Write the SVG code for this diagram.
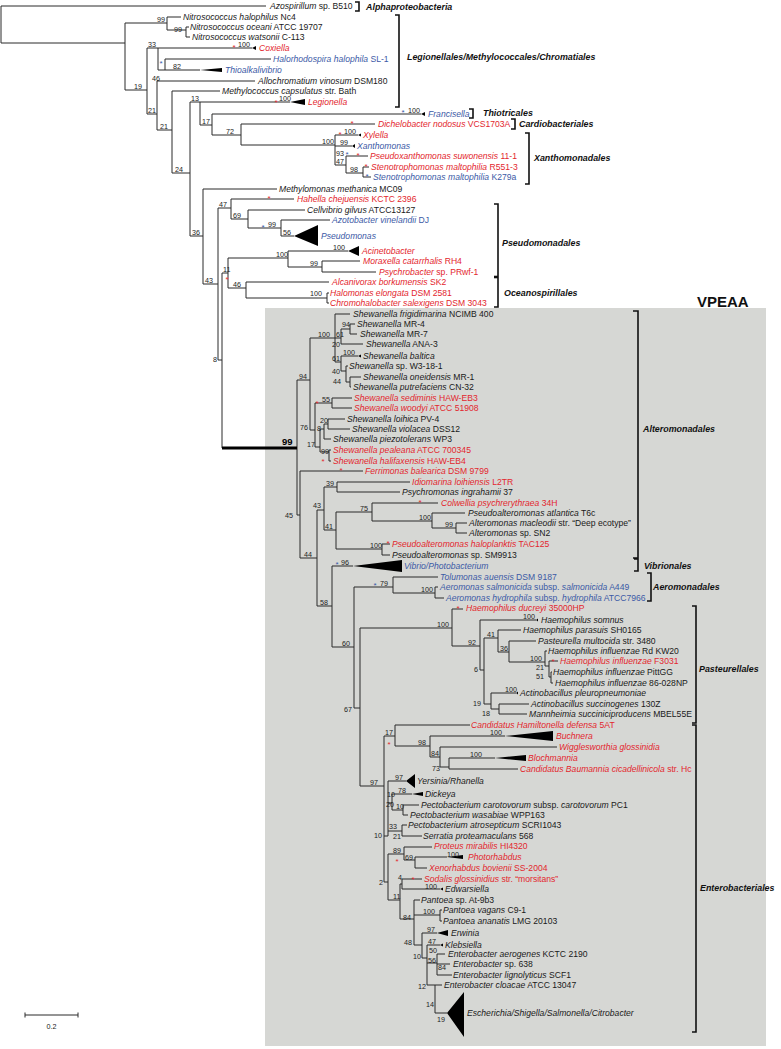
<svg xmlns="http://www.w3.org/2000/svg" width="781" height="1049" viewBox="0 0 781 1049">
<style>
.br{fill:none;stroke:#2b2b2b;stroke-width:1}
.thick{fill:none;stroke:#000;stroke-width:3}
.tri{fill:#000;stroke:none}
.bk{fill:none;stroke:#111;stroke-width:1.6}
.l{font-family:"Liberation Sans",Arial,sans-serif;font-size:8.6px;fill:#1a1a1a}
.i{font-style:italic}
.r{fill:#e3262d}
.bl{fill:#3c5aa6}
.s{font-family:"Liberation Sans",Arial,sans-serif;font-size:7.2px;fill:#222}
.ar{font-family:"Liberation Sans",Arial,sans-serif;font-size:8px;fill:#e3262d;text-anchor:middle}
.ab{font-family:"Liberation Sans",Arial,sans-serif;font-size:8px;fill:#3c5aa6;text-anchor:middle}
.g{font-family:"Liberation Sans",Arial,sans-serif;font-size:8.9px;font-weight:bold;font-style:italic;fill:#111}
</style>
<rect x="0" y="0" width="781" height="1049" fill="#fff"/>
<rect id="vpeaa-box" x="265" y="308" width="501" height="738" fill="#d6d7d4"/>
<g id="connectors">
<path class="br" d="M1 6V43 M1 6H266 M1 43H125 M125 23V90 M125 23H167 M167 17V30 M167 17H181 M167 30H186 M186 27V37 M186 27H189 M186 37H190 M125 90H147 M147 48V114 M147 48H158 M158 48V70 M158 48H252 M158 70H165 M165 59V70 M165 59H271 M165 70H200 M147 114H157 M157 81V130 M157 81H255 M157 130H172 M172 91V173 M172 91H220 M172 173H190 M190 102V236 M190 102H290 M200 102V125 M200 125H212 M212 114V135 M212 114H421 M212 135H241 M241 124V145 M241 124H375 M241 145H335 M335 135V165 M335 135H358 M335 146H352 M335 165H346 M346 156V173 M346 156H368 M346 173H363 M363 167V177 M363 167H369 M363 177H371 M190 236H203 M203 189V284 M203 189H277 M203 284H218 M218 208V360 M218 208H231 M231 199V219 M231 199H294 M231 219H248 M248 210V228 M248 210H305 M248 228H281 M281 220V236 M281 220H330 M281 236H294 M218 360H222 M222 273V448 M222 273H228 M228 258V288 M228 258H288 M288 251V267 M288 251H348 M288 267H322 M322 261V272 M322 261H360 M322 272H376 M228 288H246 M246 282V298 M246 282H329 M246 298H327 M327 293V303 M327 293H329 M327 303H329"/>
<path class="br" d="M297 380V515 M297 380H310 M310 338V430 M310 338H341 M335 314V362 M335 314H350 M341 329V344 M341 329H350 M350 324V334 M350 324H355 M350 334H357 M341 344H363 M335 362H341 M341 356V371 M341 356H358 M341 371H346 M346 366V382 M346 366H348 M346 382H350 M350 377V387 M350 377H361 M350 387H351 M310 430H315 M315 403V447 M315 403H332 M332 398V408 M332 398H352 M332 408H352 M315 447H320 M320 429V452 M320 429H324 M324 424V439 M324 424H328 M328 419V429 M328 419H345 M328 429H350 M324 439H331 M320 452H329 M329 450V461 M329 450H331 M329 461H331 M297 515H300 M300 471V558 M300 471H363 M300 558H317 M317 510V606 M317 510H324 M324 487V530 M324 487H337 M337 482V492 M337 482H410 M337 492H400 M324 530H336 M336 512V549 M336 512H372 M372 503V521 M372 503H438 M372 521H432 M432 513V528 M432 513H465 M432 528H456 M456 523V533 M456 523H467 M456 533H467 M336 549H382 M382 544V555 M382 544H390 M382 555H390 M317 606H332 M332 566V647 M332 566H353 M332 647H354 M354 587V708 M354 587H393 M393 577V593 M393 577H438 M393 593H435 M435 587V598 M435 587H438 M435 598H444 M354 708H360 M360 628V786 M360 628H452 M452 609V646 M452 609H463 M452 646H480 M480 620V670 M480 620H536 M480 670H484 M484 638V704 M484 638H498 M498 630V652 M498 630H521 M498 652H509 M509 641V662 M509 641H536 M509 662H545 M545 651V666 M545 651H547 M545 666H549 M549 661V677 M549 661H558 M549 677H551 M551 672V683 M551 672H552 M551 683H553 M484 704H491 M491 693V709 M491 693H516 M491 709H499 M499 704V714 M499 704H529 M499 714H527"/>
<path class="br" d="M360 786H384 M384 736V882 M384 736H395 M395 725V746 M395 725H470 M395 746H430 M430 736V757 M430 736H505 M430 757H440 M440 747V767 M440 747H557 M440 767H449 M449 758V769 M449 758H495 M449 769H518 M384 836H388 M388 781V836 M388 781H406 M388 803H392 M392 794V810 M392 794H412 M392 810H403 M403 805V815 M403 805H419 M403 815H408 M388 831H402 M402 825V836 M402 825H407 M402 836H422 M384 882H388 M388 854V900 M388 854H404 M404 847V860 M404 847H432 M404 860H415 M415 857V868 M415 857H447 M415 868H427 M388 900H400 M400 884V919 M400 884H402 M402 879V889 M402 879H422 M402 889H440 M400 919H414 M414 900V945 M414 900H420 M414 915H440 M440 910V921 M440 910H442 M440 921H442 M414 945H422 M422 933V958 M422 933H437 M422 958H427 M427 945V985 M427 945H440 M427 963H437 M437 954V975 M437 954H445 M437 964H450 M437 975H452 M427 985H435 M435 985V1013 M435 985H442 M435 1013H447"/>
<path class="thick" d="M222 448H297"/>
<path class="tri" d="M252 48L256 46L256 50Z M200 70L222 68L222 72Z M290 102L305 99L305 105Z M421 114L425 112L425 116Z M358 135L361 133.5L361 136.5Z M352 146L355 144L355 148Z M294 236L318 225L318 246Z M348 251L359 246L359 256Z M358 356L361 354.5L361 357.5Z M353 566L402 560L402 572Z M536 620L538 618.5L538 621.5Z M516 693L518 691.5L518 694.5Z M505 736L553 731L553 741Z M495 758L526 755L526 761Z M406 781L415 774L415 788Z M412 794L423 792L423 796Z M447 857L463 855L463 859Z M440 889L443 887.5L443 890.5Z M437 933L448 930L448 936Z M440 945L443 943.5L443 946.5Z M447 1013L464 992L464 1037Z"/>
</g>
<g id="brackets">
<path class="bk" d="M355 2H359V11H355 M395 15H399V107H395 M469 109H473V118H469 M511 119H515V129H511 M525 133H529V184H525 M494 204H498V307H494 M633 311H638V558H633 M634 559H638V571H634 M647 573H651V601H647 M692 606H696V723H692 M692 725H696V1032H692"/>
<path d="M494 277H498" stroke="#111" stroke-width="2.6"/>
</g>
<g id="support-values">
<text class="s" x="157" y="21.5">99</text><text class="s" x="174" y="32">99</text><text class="s" x="148" y="46.5">33</text><text class="s" x="152" y="80.5">46</text><text class="s" x="173" y="68.5">82</text><text class="s" x="238" y="47.3">100</text><text class="s" x="134" y="88.5">19</text><text class="s" x="148" y="112.5">21</text><text class="s" x="160" y="128.5">21</text><text class="s" x="175" y="171.5">24</text><text class="s" x="191" y="100.5">13</text><text class="s" x="279" y="101.3">100</text><text class="s" x="202" y="123.5">17</text><text class="s" x="408" y="112.5">100</text><text class="s" x="226" y="133.5">72</text><text class="s" x="322" y="143.5">100</text><text class="s" x="344" y="133.5">100</text><text class="s" x="340" y="144.5">99</text><text class="s" x="336" y="156">93</text><text class="s" x="336" y="163.5">47</text><text class="s" x="350" y="171.5">98</text><text class="s" x="192" y="234.5">36</text><text class="s" x="205" y="282.5">43</text><text class="s" x="219" y="206.5">47</text><text class="s" x="233" y="217.5">69</text><text class="s" x="268" y="226.5">99</text><text class="s" x="283" y="234.5">56</text><text class="s" x="213" y="362">8</text><text class="s" x="223" y="271.5">11</text><text class="s" x="276" y="256.5">100</text><text class="s" x="333" y="249.5">100</text><text class="s" x="310" y="265.5">99</text><text class="s" x="233" y="286.5">46</text><text class="s" x="310" y="296">100</text>
<text x="282" y="445" font-family="Liberation Sans, Arial, sans-serif" font-size="9.5" font-weight="bold" fill="#000">99</text>
<text class="s" x="299" y="378.5">94</text><text class="s" x="318" y="336.5">100</text><text class="s" x="336" y="336.5">61</text><text class="s" x="342" y="327">94</text><text class="s" x="332" y="347">20</text><text class="s" x="332" y="361">61</text><text class="s" x="343" y="354.5">100</text><text class="s" x="332" y="374">40</text><text class="s" x="333" y="384">44</text><text class="s" x="322" y="401.5">55</text><text class="s" x="300" y="430">76</text><text class="s" x="320" y="423">20</text><text class="s" x="317" y="431">8</text><text class="s" x="307" y="447">17</text><text class="s" x="321" y="454">99</text><text class="s" x="285" y="518">45</text><text class="s" x="304" y="556.5">44</text><text class="s" x="313" y="507.5">43</text><text class="s" x="326" y="485.5">39</text><text class="s" x="325" y="528.5">41</text><text class="s" x="360" y="510.5">75</text><text class="s" x="419" y="519.5">100</text><text class="s" x="445" y="526.5">99</text><text class="s" x="370" y="547.5">100</text><text class="s" x="320" y="604.5">58</text><text class="s" x="341" y="564.5">96</text><text class="s" x="342" y="645.5">60</text><text class="s" x="380" y="585.5">79</text><text class="s" x="421" y="591.5">100</text><text class="s" x="344" y="712">67</text><text class="s" x="437" y="626.5">100</text><text class="s" x="468" y="644.5">92</text><text class="s" x="523" y="619.4">100</text><text class="s" x="474" y="672">6</text><text class="s" x="487" y="636.5">41</text><text class="s" x="500" y="650.5">36</text><text class="s" x="530" y="660.5">100</text><text class="s" x="536" y="669.5">21</text><text class="s" x="536" y="679">51</text><text class="s" x="473" y="706">19</text><text class="s" x="505" y="691.5">100</text><text class="s" x="482" y="716">18</text>
<text class="s" x="370" y="784.5">97</text><text class="s" x="385" y="734.5">17</text><text class="s" x="418" y="744.5">98</text><text class="s" x="490" y="735.3">100</text><text class="s" x="431" y="755.5">84</text><text class="s" x="432" y="771">73</text><text class="s" x="470" y="756.5">100</text><text class="s" x="395" y="779.5">97</text><text class="s" x="398" y="792.5">78</text><text class="s" x="387" y="797">10</text><text class="s" x="386" y="806.5">20</text><text class="s" x="396" y="809">10</text><text class="s" x="389" y="829">33</text><text class="s" x="374" y="838">10</text><text class="s" x="393" y="839">21</text><text class="s" x="393" y="852.5">89</text><text class="s" x="405" y="859.5">69</text><text class="s" x="447" y="857.3">100</text><text class="s" x="379" y="884.5">2</text><text class="s" x="398" y="879.5">4</text><text class="s" x="425" y="888.8">100</text><text class="s" x="393" y="898.5">11</text><text class="s" x="423" y="913.5">100</text><text class="s" x="403" y="919.5">84</text><text class="s" x="427" y="931.5">97</text><text class="s" x="404" y="944.5">48</text><text class="s" x="428" y="943.5">47</text><text class="s" x="413" y="958.5">10</text><text class="s" x="429" y="953">50</text><text class="s" x="428" y="963">56</text><text class="s" x="438" y="970">84</text><text class="s" x="418" y="988.5">12</text><text class="s" x="426" y="1006.5">14</text><text class="s" x="437" y="1021.5">19</text>
</g>
<g id="asterisks">
<text class="ar" x="234" y="49.5">*</text><text class="ar" x="276" y="104.5">*</text><text class="ar" x="352" y="125.5">*</text><text class="ar" x="340" y="137">*</text><text class="ar" x="358" y="157.5">*</text><text class="ar" x="366" y="168.5">*</text><text class="ar" x="269" y="200.5">*</text><text class="ar" x="227" y="281.5">*</text><text class="ar" x="317" y="405.5">*</text><text class="ar" x="323" y="463.5">*</text><text class="ar" x="341" y="472.5">*</text><text class="ar" x="420" y="504.5">*</text><text class="ar" x="388" y="545.5">*</text><text class="ar" x="458" y="610.5">*</text><text class="ar" x="553" y="663.5">*</text><text class="ar" x="389" y="746.5">*</text><text class="ar" x="397" y="863.5">*</text><text class="ar" x="413" y="881.5">*</text>
<text class="ab" x="161" y="65.5">*</text><text class="ab" x="403" y="114.5">*</text><text class="ab" x="347" y="156.5">*</text><text class="ab" x="367" y="178.5">*</text><text class="ab" x="263" y="229.5">*</text><text class="ab" x="337" y="566.5">*</text><text class="ab" x="375" y="587.5">*</text>
</g>
<g id="leaf-azospirillum"><text class="l" x="270" y="9"><tspan class="i">Azospirillum</tspan> sp. B510</text></g>
<g id="leaf-nhalophilus"><text class="l" x="183" y="20"><tspan class="i">Nitrosococcus halophilus</tspan> Nc4</text></g>
<g id="leaf-noceani"><text class="l" x="190" y="30"><tspan class="i">Nitrosococcus oceani</tspan> ATCC 19707</text></g>
<g id="leaf-nwatsonii"><text class="l" x="192" y="39.6"><tspan class="i">Nitrosococcus watsonii</tspan> C-113</text></g>
<g id="leaf-coxiella"><text class="l r" x="259" y="51"><tspan class="i">Coxiella</tspan></text></g>
<g id="leaf-halorhodospira"><text class="l bl" x="273" y="62"><tspan class="i">Halorhodospira halophila</tspan> SL-1</text></g>
<g id="leaf-thioalkalivibrio"><text class="l bl" x="225" y="73"><tspan class="i">Thioalkalivibrio</tspan></text></g>
<g id="leaf-allochromatium"><text class="l" x="258" y="84"><tspan class="i">Allochromatium vinosum</tspan> DSM180</text></g>
<g id="leaf-methylococcus"><text class="l" x="222" y="93.6"><tspan class="i">Methylococcus capsulatus</tspan> str. Bath</text></g>
<g id="leaf-legionella"><text class="l r" x="308" y="105"><tspan class="i">Legionella</tspan></text></g>
<g id="leaf-francisella"><text class="l bl" x="428" y="117"><tspan class="i">Francisella</tspan></text></g>
<g id="leaf-dichelobacter"><text class="l r" x="378" y="127"><tspan class="i">Dichelobacter nodosus</tspan> VCS1703A</text></g>
<g id="leaf-xylella"><text class="l r" x="363" y="138"><tspan class="i">Xylella</tspan></text></g>
<g id="leaf-xanthomonas"><text class="l bl" x="357" y="149"><tspan class="i">Xanthomonas</tspan></text></g>
<g id="leaf-pseudoxanthomonas"><text class="l r" x="370" y="159"><tspan class="i">Pseudoxanthomonas suwonensis</tspan> 11-1</text></g>
<g id="leaf-steno-r551"><text class="l r" x="371" y="170"><tspan class="i">Stenotrophomonas maltophilia</tspan> R551-3</text></g>
<g id="leaf-steno-k279a"><text class="l bl" x="373" y="180"><tspan class="i">Stenotrophomonas maltophilia</tspan> K279a</text></g>
<g id="leaf-methylomonas"><text class="l" x="279" y="192"><tspan class="i">Methylomonas methanica</tspan> MC09</text></g>
<g id="leaf-hahella"><text class="l r" x="297" y="202"><tspan class="i">Hahella chejuensis</tspan> KCTC 2396</text></g>
<g id="leaf-cellvibrio"><text class="l" x="307" y="213"><tspan class="i">Cellvibrio gilvus</tspan> ATCC13127</text></g>
<g id="leaf-azotobacter"><text class="l bl" x="332" y="223"><tspan class="i">Azotobacter vinelandii</tspan> DJ</text></g>
<g id="leaf-pseudomonas"><text class="l bl" x="321" y="239"><tspan class="i">Pseudomonas</tspan></text></g>
<g id="leaf-acinetobacter"><text class="l r" x="362" y="254"><tspan class="i">Acinetobacter</tspan></text></g>
<g id="leaf-moraxella"><text class="l r" x="363" y="264"><tspan class="i">Moraxella catarrhalis</tspan> RH4</text></g>
<g id="leaf-psychrobacter"><text class="l r" x="379" y="275"><tspan class="i">Psychrobacter</tspan> sp. PRwf-1</text></g>
<g id="leaf-alcanivorax"><text class="l r" x="332" y="285"><tspan class="i">Alcanivorax borkumensis</tspan> SK2</text></g>
<g id="leaf-halomonas"><text class="l r" x="330" y="296"><tspan class="i">Halomonas elongata</tspan> DSM 2581</text></g>
<g id="leaf-chromohalobacter"><text class="l r" x="330" y="306"><tspan class="i">Chromohalobacter salexigens</tspan> DSM 3043</text></g>
<g id="leaf-s-frigidimarina"><text class="l" x="353" y="317"><tspan class="i">Shewanella frigidimarina</tspan> NCIMB 400</text></g>
<g id="leaf-s-mr4"><text class="l" x="357" y="327"><tspan class="i">Shewanella</tspan> MR-4</text></g>
<g id="leaf-s-mr7"><text class="l" x="360" y="337"><tspan class="i">Shewanella</tspan> MR-7</text></g>
<g id="leaf-s-ana3"><text class="l" x="366" y="347"><tspan class="i">Shewanella</tspan> ANA-3</text></g>
<g id="leaf-s-baltica"><text class="l" x="363" y="359"><tspan class="i">Shewanella baltica</tspan></text></g>
<g id="leaf-s-w3"><text class="l" x="349" y="369"><tspan class="i">Shewanella</tspan> sp. W3-18-1</text></g>
<g id="leaf-s-oneidensis"><text class="l" x="363" y="380"><tspan class="i">Shewanella oneidensis</tspan> MR-1</text></g>
<g id="leaf-s-putrefaciens"><text class="l" x="353" y="390"><tspan class="i">Shewanella putrefaciens</tspan> CN-32</text></g>
<g id="leaf-s-sediminis"><text class="l r" x="354" y="401"><tspan class="i">Shewanella sediminis</tspan> HAW-EB3</text></g>
<g id="leaf-s-woodyi"><text class="l r" x="354" y="411"><tspan class="i">Shewanella woodyi</tspan> ATCC 51908</text></g>
<g id="leaf-s-loihica"><text class="l" x="347" y="422"><tspan class="i">Shewanella loihica</tspan> PV-4</text></g>
<g id="leaf-s-violacea"><text class="l" x="352" y="432"><tspan class="i">Shewanella violacea</tspan> DSS12</text></g>
<g id="leaf-s-piezotolerans"><text class="l" x="333" y="442"><tspan class="i">Shewanella piezotolerans</tspan> WP3</text></g>
<g id="leaf-s-pealeana"><text class="l r" x="333" y="453"><tspan class="i">Shewanella pealeana</tspan> ATCC 700345</text></g>
<g id="leaf-s-halifaxensis"><text class="l r" x="333" y="464"><tspan class="i">Shewanella halifaxensis</tspan> HAW-EB4</text></g>
<g id="leaf-ferrimonas"><text class="l r" x="365" y="474"><tspan class="i">Ferrimonas balearica</tspan> DSM 9799</text></g>
<g id="leaf-idiomarina"><text class="l r" x="412" y="485"><tspan class="i">Idiomarina loihiensis</tspan> L2TR</text></g>
<g id="leaf-psychromonas"><text class="l" x="402" y="495"><tspan class="i">Psychromonas ingrahamii</tspan> 37</text></g>
<g id="leaf-colwellia"><text class="l r" x="441" y="506"><tspan class="i">Colwellia psychrerythraea</tspan> 34H</text></g>
<g id="leaf-p-atlantica"><text class="l" x="468" y="516"><tspan class="i">Pseudoalteromonas atlantica</tspan> T6c</text></g>
<g id="leaf-a-macleodii"><text class="l" x="469" y="526"><tspan class="i">Alteromonas macleodii</tspan> str. “Deep ecotype”</text></g>
<g id="leaf-a-sn2"><text class="l" x="469" y="536"><tspan class="i">Alteromonas</tspan> sp. SN2</text></g>
<g id="leaf-p-haloplanktis"><text class="l r" x="392" y="547"><tspan class="i">Pseudoalteromonas haloplanktis</tspan> TAC125</text></g>
<g id="leaf-p-sm9913"><text class="l" x="392" y="558"><tspan class="i">Pseudoalteromonas</tspan> sp. SM9913</text></g>
<g id="leaf-vibrio"><text class="l bl" x="404" y="569"><tspan class="i">Vibrio/Photobacterium</tspan></text></g>
<g id="leaf-tolumonas"><text class="l bl" x="440" y="580"><tspan class="i">Tolumonas auensis</tspan> DSM 9187</text></g>
<g id="leaf-a-salmonicida"><text class="l bl" x="440" y="590"><tspan class="i">Aeromonas salmonicida</tspan> subsp. <tspan class="i">salmonicida</tspan> A449</text></g>
<g id="leaf-a-hydrophila"><text class="l bl" x="446" y="601"><tspan class="i">Aeromonas hydrophila</tspan> subsp. <tspan class="i">hydrophila</tspan> ATCC7966</text></g>
<g id="leaf-h-ducreyi"><text class="l r" x="466" y="611.3"><tspan class="i">Haemophilus ducreyi</tspan> 35000HP</text></g>
<g id="leaf-h-somnus"><text class="l" x="541" y="623"><tspan class="i">Haemophilus somnus</tspan></text></g>
<g id="leaf-h-parasuis"><text class="l" x="523" y="633"><tspan class="i">Haemophilus parasuis</tspan> SH0165</text></g>
<g id="leaf-pasteurella"><text class="l" x="538" y="644"><tspan class="i">Pasteurella multocida</tspan> str. 3480</text></g>
<g id="leaf-hi-rd"><text class="l" x="548" y="654"><tspan class="i">Haemophilus influenzae</tspan> Rd KW20</text></g>
<g id="leaf-hi-f3031"><text class="l r" x="560" y="664"><tspan class="i">Haemophilus influenzae</tspan> F3031</text></g>
<g id="leaf-hi-pittgg"><text class="l" x="553" y="675"><tspan class="i">Haemophilus influenzae</tspan> PittGG</text></g>
<g id="leaf-hi-86"><text class="l" x="555" y="686"><tspan class="i">Haemophilus influenzae</tspan> 86-028NP</text></g>
<g id="leaf-a-pleuro"><text class="l" x="520" y="696"><tspan class="i">Actinobacillus pleuropneumoniae</tspan></text></g>
<g id="leaf-a-succinogenes"><text class="l" x="531" y="707"><tspan class="i">Actinobacillus succinogenes</tspan> 130Z</text></g>
<g id="leaf-mannheimia"><text class="l" x="529" y="717"><tspan class="i">Mannheimia succiniciproducens</tspan> MBEL55E</text></g>
<g id="leaf-hamiltonella"><text class="l r" x="471" y="727.6"><tspan class="i">Candidatus Hamiltonella defensa</tspan> 5AT</text></g>
<g id="leaf-buchnera"><text class="l r" x="556" y="739"><tspan class="i">Buchnera</tspan></text></g>
<g id="leaf-wigglesworthia"><text class="l r" x="559" y="750"><tspan class="i">Wigglesworthia glossinidia</tspan></text></g>
<g id="leaf-blochmannia"><text class="l r" x="528" y="761"><tspan class="i">Blochmannia</tspan></text></g>
<g id="leaf-baumannia"><text class="l r" x="520" y="772"><tspan class="i">Candidatus Baumannia cicadellinicola</tspan> str. Hc</text></g>
<g id="leaf-yersinia"><text class="l" x="417" y="784"><tspan class="i">Yersinia/Rhanella</tspan></text></g>
<g id="leaf-dickeya"><text class="l" x="425" y="797"><tspan class="i">Dickeya</tspan></text></g>
<g id="leaf-p-carotovorum"><text class="l" x="421" y="808"><tspan class="i">Pectobacterium carotovorum</tspan> subsp. <tspan class="i">carotovorum</tspan> PC1</text></g>
<g id="leaf-p-wasabiae"><text class="l" x="410" y="818"><tspan class="i">Pectobacterium wasabiae</tspan>  WPP163</text></g>
<g id="leaf-p-atrosepticum"><text class="l" x="408" y="828"><tspan class="i">Pectobacterium atrosepticum</tspan> SCRI1043</text></g>
<g id="leaf-serratia"><text class="l" x="423" y="839"><tspan class="i">Serratia proteamaculans</tspan> 568</text></g>
<g id="leaf-proteus"><text class="l r" x="434" y="849.3"><tspan class="i">Proteus mirabilis</tspan> HI4320</text></g>
<g id="leaf-photorhabdus"><text class="l r" x="468" y="860"><tspan class="i">Photorhabdus</tspan></text></g>
<g id="leaf-xenorhabdus"><text class="l r" x="429" y="871"><tspan class="i">Xenorhabdus bovienii</tspan> SS-2004</text></g>
<g id="leaf-sodalis"><text class="l r" x="424" y="881.5"><tspan class="i">Sodalis glossinidius</tspan> str.  “morsitans”</text></g>
<g id="leaf-edwarsiella"><text class="l" x="445" y="892"><tspan class="i">Edwarsiella</tspan></text></g>
<g id="leaf-pantoea-sp"><text class="l" x="421" y="903"><tspan class="i">Pantoea</tspan> sp. At-9b3</text></g>
<g id="leaf-pantoea-vagans"><text class="l" x="443" y="913"><tspan class="i">Pantoea vagans</tspan> C9-1</text></g>
<g id="leaf-pantoea-ananatis"><text class="l" x="443" y="924"><tspan class="i">Pantoea ananatis</tspan> LMG 20103</text></g>
<g id="leaf-erwinia"><text class="l" x="451" y="936"><tspan class="i">Erwinia</tspan></text></g>
<g id="leaf-klebsiella"><text class="l" x="445" y="948"><tspan class="i">Klebsiella</tspan></text></g>
<g id="leaf-e-aerogenes"><text class="l" x="448" y="957"><tspan class="i">Enterobacter aerogenes</tspan> KCTC 2190</text></g>
<g id="leaf-e-638"><text class="l" x="453" y="967"><tspan class="i">Enterobacter</tspan> sp. 638</text></g>
<g id="leaf-e-lignolyticus"><text class="l" x="453" y="978"><tspan class="i">Enterobacter lignolyticus</tspan> SCF1</text></g>
<g id="leaf-e-cloacae"><text class="l" x="444" y="988"><tspan class="i">Enterobacter cloacae</tspan> ATCC 13047</text></g>
<g id="leaf-escherichia"><text class="l" x="467" y="1016"><tspan class="i">Escherichia/Shigella/Salmonella/Citrobacter</tspan></text></g>
<g id="group-labels">
<text class="g" x="366" y="9.5" font-size="10">Alphaproteobacteria</text>
<text class="g" x="407" y="60">Legionellales/Methylococcales/Chromatiales</text>
<text class="g" x="483" y="116">Thiotricales</text>
<text class="g" x="519" y="127">Cardiobacteriales</text>
<text class="g" x="534" y="161">Xanthomonadales</text>
<text class="g" x="502" y="246">Pseudomonadales</text>
<text class="g" x="504" y="296">Oceanospirillales</text>
<text x="697" y="307" font-family="Liberation Sans, Arial, sans-serif" font-size="15" font-weight="bold" fill="#111">VPEAA</text>
<text class="g" x="643" y="432">Alteromonadales</text>
<text class="g" x="644" y="569">Vibrionales</text>
<text class="g" x="653" y="590">Aeromonadales</text>
<text class="g" x="699" y="672">Pasteurellales</text>
<text class="g" x="700" y="891">Enterobacteriales</text>
</g>
<g id="scale-bar">
<path class="br" d="M25 1015H78 M25 1012.5V1017.5 M78 1012.5V1017.5"/>
<text class="s" x="51.5" y="1029" text-anchor="middle">0.2</text>
</g>
</svg>
